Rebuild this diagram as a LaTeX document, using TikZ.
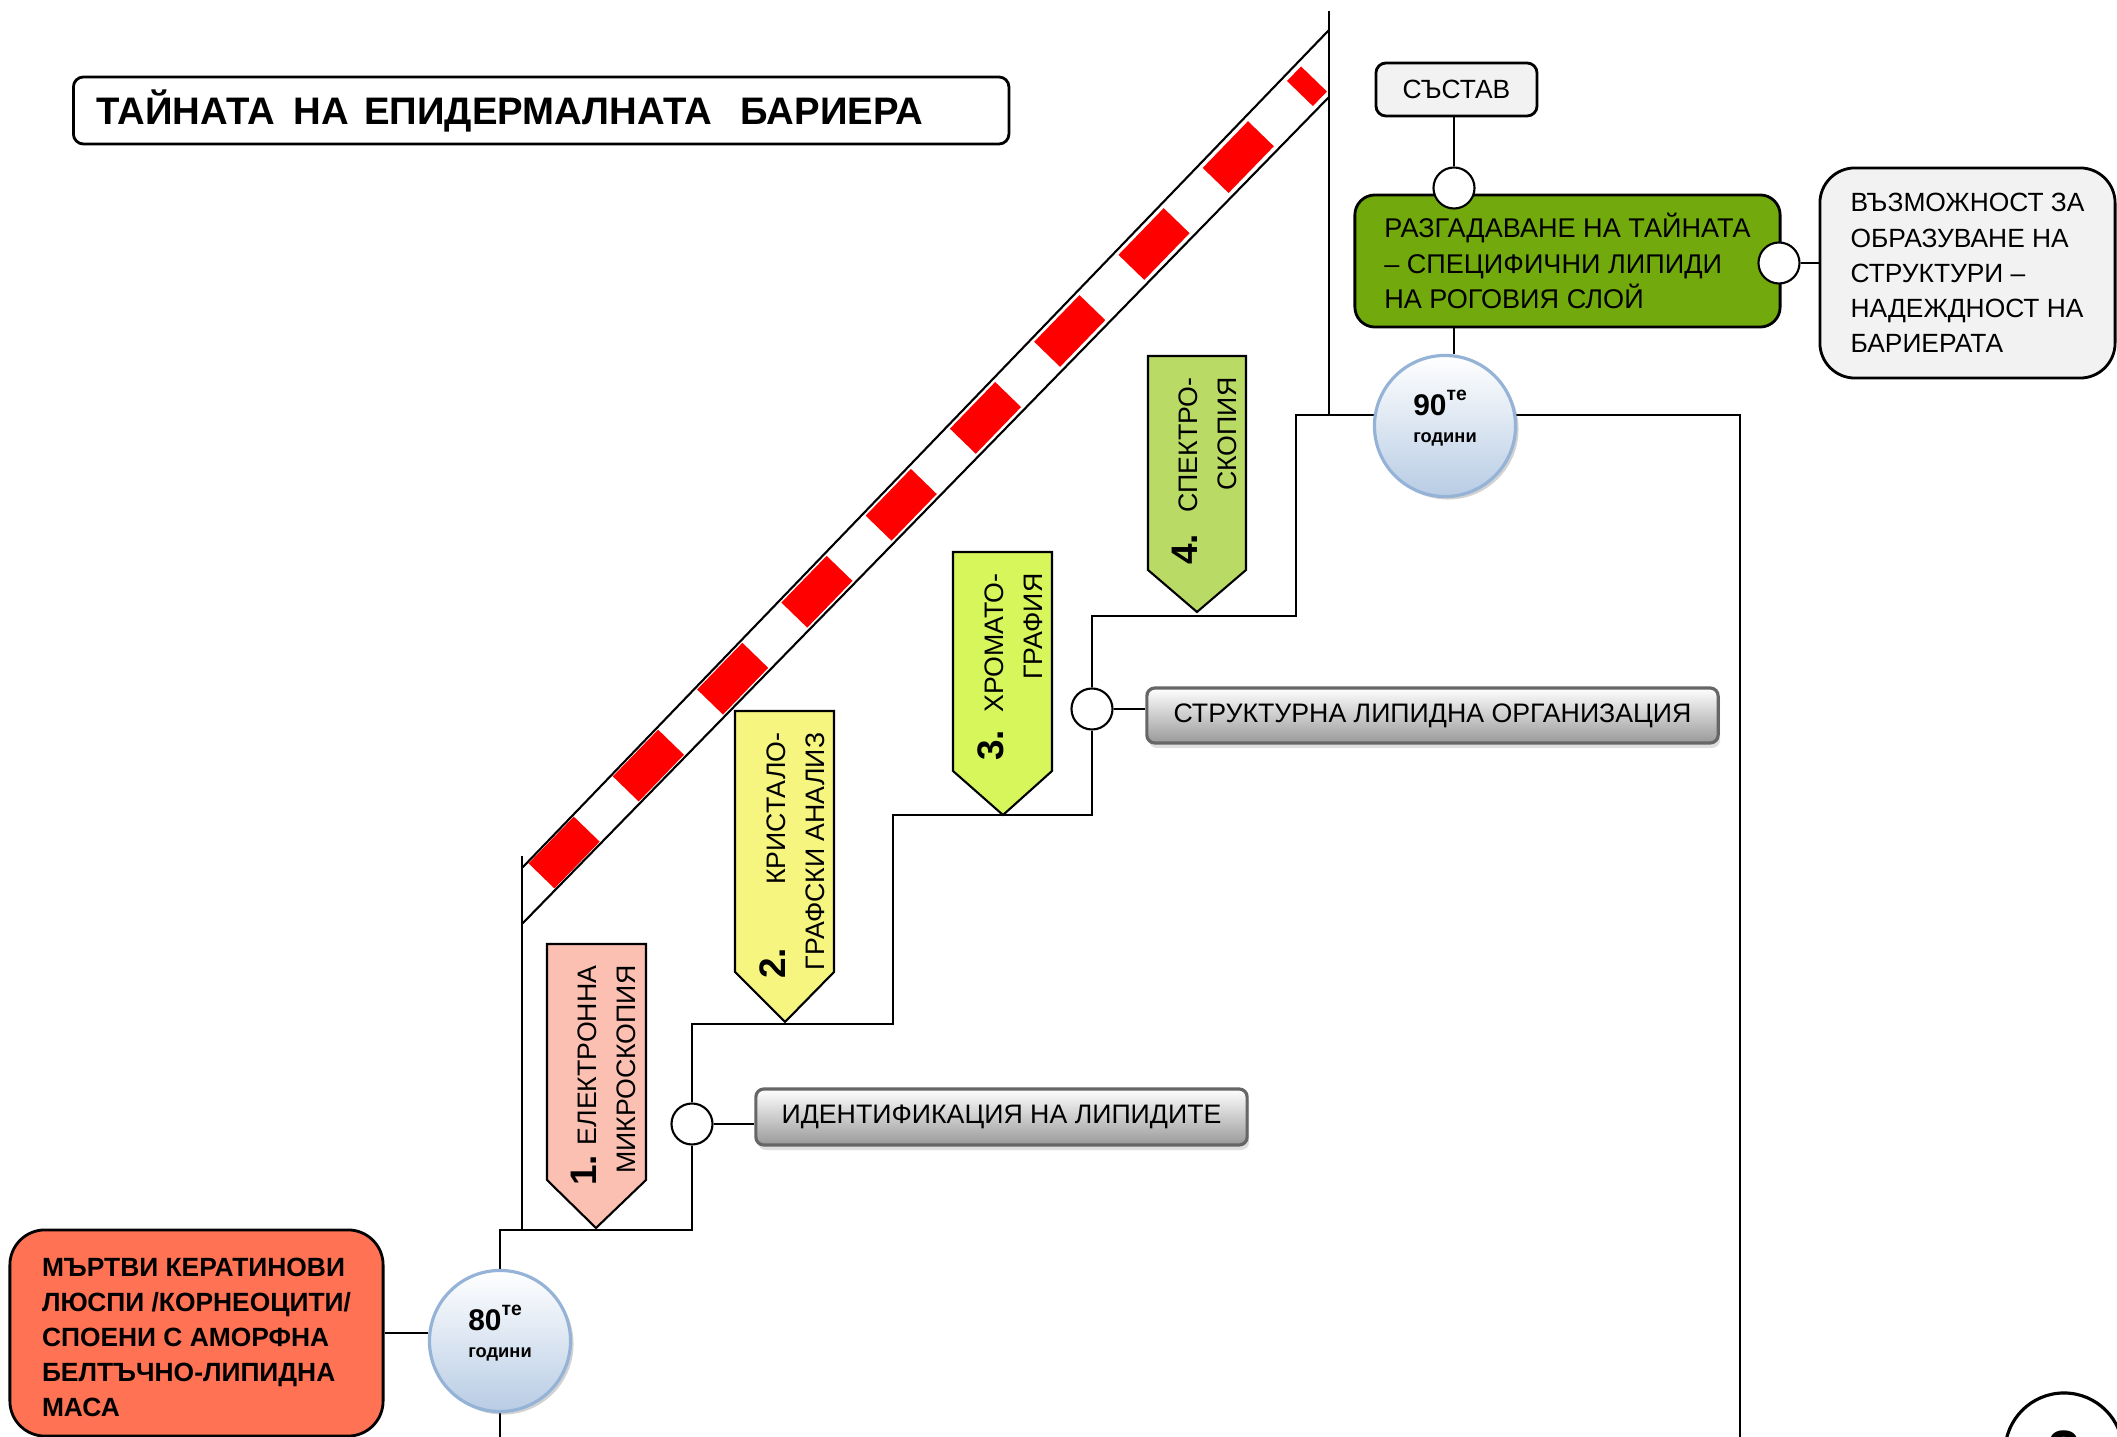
\documentclass[tikz,border=0pt]{standalone}
\usepackage{fontspec}
\setmainfont{Liberation Sans}
\usetikzlibrary{shadows}

\definecolor{barrierred}{RGB}{255,0,0}
\definecolor{corneored}{RGB}{255,114,84}
\definecolor{decodegreen}{RGB}{114,170,14}
\definecolor{notegray}{RGB}{242,242,242}
\definecolor{yearblue}{RGB}{184,204,228}
\definecolor{yearrim}{RGB}{149,179,215}
\definecolor{methodpink}{RGB}{252,192,178}
\definecolor{methodyellow}{RGB}{245,245,128}
\definecolor{methodlime}{RGB}{214,246,92}
\definecolor{methodgreen}{RGB}{186,218,102}

\newcommand{\stepno}[1]{{\fontsize{10.5}{11.1}\selectfont\bfseries #1}}
\newcommand{\decade}[1]{#1\raisebox{4pt}{\fontsize{5.5}{6}\selectfont те}\\{\fontsize{5.2}{6}\selectfont години}\rule[-5.5pt]{0pt}{1pt}}

\pgfdeclarelayer{paper}
\pgfdeclarelayer{bg}
\pgfsetlayers{paper,bg,main}

\tikzset{
  link/.style={line width=0.6pt},
  joint/.style={circle, draw, fill=white, line width=0.6pt, minimum size=0.41cm, inner sep=0},
  yeartag/.style={circle, draw=yearrim, line width=0.9pt, top color=white, bottom color=yearblue,
    minimum size=1.41cm, inner sep=0, align=left, font=\fontsize{8.5}{7.7}\selectfont\bfseries,
    drop shadow={shadow xshift=0.03cm, shadow yshift=-0.03cm, opacity=0.35}},
  findbox/.style={draw=black!60, line width=0.9pt, rounded corners=0.08cm, top color=white,
    bottom color=black!40, inner sep=0, font=\fontsize{7.6}{10}\selectfont,
    drop shadow={shadow xshift=0.02cm, shadow yshift=-0.05cm, opacity=0.25}},
  notebox/.style={draw, line width=0.8pt, fill=notegray, align=left, inner sep=0,
    font=\fontsize{7.5}{10}\selectfont},
  method/.style={draw, line width=0.6pt},
  methodtext/.style={rotate=90, anchor=east, align=right, inner sep=0,
    font=\fontsize{7.6}{11.1}\selectfont}
}

\begin{document}
\begin{tikzpicture}[x=0.01cm, y=-0.01cm]
\useasboundingbox (0,0) rectangle (2117,1437);
\begin{pgfonlayer}{paper}
\fill[white] (0,0) rectangle (2117,1437);
\end{pgfonlayer}

% title
\node[draw, line width=0.8pt, rounded corners=0.1cm, anchor=west, minimum height=0.67cm,
  text width=8.89cm, inner xsep=0.23cm, inner ysep=0, align=left,
  font=\fontsize{10.9}{12}\selectfont\bfseries] (title) at (72,110.5)
  {ТАЙНАТА\hspace{5.4pt}НА\hspace{4.3pt}ЕПИДЕРМАЛНАТА\hspace{8.2pt}БАРИЕРА};

% barrier
\draw[link] (522,856) -- (522,1230);
\draw[link] (1329,11) -- (1329,415);
\draw[link] (522,868) -- (1329,30);
\draw[link] (522,924) -- (1329,97);
\draw[barrierred, line width=0.36cm, dash pattern=on 0.65cm off 0.56cm, dash phase=0.93cm]
  (522,896) -- (1314,79);

% methods
\filldraw[method, fill=methodpink] (547,944) -- (646,944) -- (646,1180) -- (596,1228) -- (547,1180) -- cycle;
\filldraw[method, fill=methodyellow] (735,711) -- (834,711) -- (834,972) -- (785,1022) -- (735,972) -- cycle;
\filldraw[method, fill=methodlime] (953,552) -- (1052,552) -- (1052,771) -- (1003,815) -- (953,771) -- cycle;
\filldraw[method, fill=methodgreen] (1148,356) -- (1246,356) -- (1246,570) -- (1197,612) -- (1148,570) -- cycle;
\node[methodtext] (m1) at (603,965) {\stepno{1.} ЕЛЕКТРОННА\\МИКРОСКОПИЯ};
\node[methodtext] (m2) at (792,732) {\stepno{2.}\hspace{18pt}КРИСТАЛО-\\ГРАФСКИ АНАЛИЗ};
\node[methodtext] (m3) at (1010,573) {\stepno{3.}\hspace{5pt}ХРОМАТО-\\ГРАФИЯ};
\node[methodtext] (m4) at (1204,377) {\stepno{4.}\hspace{6pt}СПЕКТРО-\\СКОПИЯ};

% years
\node[yeartag] (y80) at (500,1341) {\decade{80}};
\node[yeartag] (y90) at (1445,426) {\decade{90}};

% findings
\node[joint] (j1) at (692,1124) {};
\node[joint] (j2) at (1092,709) {};
\node[findbox, minimum width=4.91cm, minimum height=0.56cm] (lipids) at (1001.5,1117) {\raisebox{-0.6pt}{ИДЕНТИФИКАЦИЯ НА ЛИПИДИТЕ}};
\node[findbox, minimum width=5.71cm, minimum height=0.55cm] (organise) at (1432.5,715.5) {\raisebox{-0.8pt}{СТРУКТУРНА ЛИПИДНА ОРГАНИЗАЦИЯ}};

\node[notebox, rounded corners=0.1cm, minimum width=1.61cm, minimum height=0.53cm] (compos) at (1456.5,89.5) {\raisebox{-0.8pt}{СЪСТАВ}};
\node[notebox, fill=decodegreen, rounded corners=0.2cm, minimum width=4.25cm, minimum height=1.32cm,
  font=\fontsize{7.7}{10}\selectfont] (decode) at (1567.5,261)
  {РАЗГАДАВАНЕ НА ТАЙНАТА\\– СПЕЦИФИЧНИ ЛИПИДИ\\НА РОГОВИЯ СЛОЙ};
\node[notebox, rounded corners=0.35cm, minimum width=2.95cm, minimum height=2.1cm] (ability) at (1967.5,273)
  {ВЪЗМОЖНОСТ ЗА\\ОБРАЗУВАНЕ НА\\СТРУКТУРИ –\\НАДЕЖДНОСТ НА\\БАРИЕРАТА};
\node[joint] (j3) at (1454,188) {};
\node[joint] (j4) at (1779,263) {};

\node[notebox, fill=corneored, rounded corners=0.35cm, minimum width=3.73cm, minimum height=2.06cm,
  font=\fontsize{7.5}{10}\selectfont\bfseries] (corneo) at (196.5,1333)
  {\rule{0pt}{7.8pt}МЪРТВИ КЕРАТИНОВИ\\ЛЮСПИ /КОРНЕОЦИТИ/\\СПОЕНИ С АМОРФНА\\БЕЛТЪЧНО-ЛИПИДНА\\МАСА};

\node[draw, circle, fill=white, line width=0.9pt, minimum size=1.18cm, inner sep=0,
  font=\fontsize{17}{17}\selectfont\bfseries] (page) at (2064,1452) {2};

% connectors
\begin{pgfonlayer}{bg}
\draw[link] (y80.south) -- (500,1437);
\draw[link] (y80.north) |- (692,1230) -- (j1);
\draw[link] (j1) |- (893,1024) |- (1092,815) -- (j2);
\draw[link] (j2) |- (1296,616) |- (1740,415) -- (1740,1437);
\draw[link] (corneo.east) -- (corneo.east -| y80.west);
\draw[link] (j1) -- (j1 -| lipids.west);
\draw[link] (j2) -- (j2 -| organise.west);
\draw[link] (j3 |- compos.south) -- (j3);
\draw[link] (j3 |- decode.south) -- (j3 |- y90.north);
\draw[link] (j4) -- (j4 -| ability.west);
\end{pgfonlayer}
\end{tikzpicture}
\end{document}
